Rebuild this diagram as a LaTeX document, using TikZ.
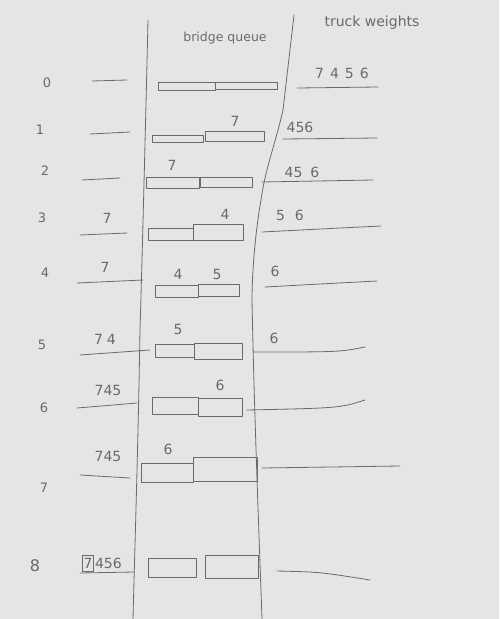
\documentclass[tikz,border=0pt]{standalone}
\usepackage{fontspec}
\setmainfont{DejaVu Sans}
\definecolor{paper}{HTML}{E5E5E3}
\definecolor{pencil}{HTML}{6A6A6A}
\begin{document}
\begin{tikzpicture}[x=1pt,y=-1pt,
  pen/.style={draw=pencil,line width=0.8pt,line cap=round,line join=round},
  qbox/.style={pen},
  num/.style={text=pencil,font=\fontsize{14}{14}\selectfont,inner sep=0pt},
  rownum/.style={text=pencil,font=\fontsize{13}{13}\selectfont,inner sep=0pt},
  head/.style={text=pencil,font=\fontsize{12.5}{12.5}\selectfont,inner sep=0pt}]
\fill[paper] (0,0) rectangle (499,619);
\useasboundingbox (0,0) rectangle (499,619);
% column lines
\draw[pen] (148,20) .. controls (145,150) and (141,300) .. (140,330) .. controls (138,450) and (135,540) .. (133,619);
\draw[pen] (294,15) -- (283,110) .. controls (275,145) and (265,170) .. (261,200) .. controls (254,240) and (252,280) .. (252,300) .. controls (254,400) and (257,480) .. (262,619);
% headers
\node[head] (hq) at (225,38) {bridge queue};
\node[head,font=\fontsize{14}{14}\selectfont] (hw) at (372,23) {truck weights};
% row numbers
\node[rownum] (r0) at (47,83) {0};
\node[rownum] (r1) at (40,130) {1};
\node[rownum] (r2) at (45,171) {2};
\node[rownum] (r3) at (42,218) {3};
\node[rownum] (r4) at (45,273) {4};
\node[rownum] (r5) at (42,345) {5};
\node[rownum] (r6) at (44,408) {6};
\node[rownum] (r7) at (44,488) {7};
\node[rownum,font=\fontsize{16}{16}\selectfont] (r8) at (35,566) {8};
% left column (finished trucks)
\draw[pen] (92,81) -- (127,80);
\draw[pen] (90,134) -- (130,132);
\draw[pen] (82,180) -- (120,178);
\node[num] (l3) at (107,218) {7};
\draw[pen] (80,235) -- (127,233);
\node[num] (l4) at (105,267) {7};
\draw[pen] (77,283) -- (143,280);
\node[num] (l5) at (105,339) {7\hspace{4pt}4};
\draw[pen] (80,355) -- (150,350);
\node[num] (l6) at (108,390) {745};
\draw[pen] (77,408) -- (137,403);
\node[num] (l7) at (108,456) {745};
\draw[pen] (80,475) -- (130,478);
\node[num,draw=pencil,line width=0.8pt,inner xsep=1pt,inner ysep=3pt] (l8a) at (88,563) {7};
\node[num,anchor=west,xshift=1pt] (l8b) at (l8a.east) {456};
\draw[pen] (80,573) -- (134,572);
% bridge boxes
\draw[qbox] (158,82) rectangle (215,90);
\draw[qbox] (215,82) rectangle (277,89);
\draw[qbox] (152,135) rectangle (203,142);
\draw[qbox] (205,131) rectangle (264,141);
\node[num] (b1) at (235,121) {7};
\draw[qbox] (146,177) rectangle (199,188);
\draw[qbox] (200,177) rectangle (252,187);
\node[num] (b2) at (172,165) {7};
\draw[qbox] (148,228) rectangle (193,240);
\draw[qbox] (193,224) rectangle (243,240);
\node[num] (b3) at (225,214) {4};
\draw[qbox] (155,285) rectangle (198,297);
\draw[qbox] (198,284) rectangle (239,296);
\node[num] (b4a) at (178,274) {4};
\node[num] (b4b) at (217,274) {5};
\draw[qbox] (155,344) rectangle (194,357);
\draw[qbox] (194,343) rectangle (242,359);
\node[num] (b5) at (178,329) {5};
\draw[qbox] (152,397) rectangle (198,414);
\draw[qbox] (198,398) rectangle (242,416);
\node[num] (b6) at (220,385) {6};
\draw[qbox] (141,463) rectangle (193,482);
\draw[qbox] (193,457) rectangle (257,481);
\node[num] (b7) at (168,449) {6};
\draw[qbox] (148,558) rectangle (196,577);
\draw[qbox] (205,555) rectangle (258,578);
% right column (waiting trucks)
\node[num] (w0) at (342,73) {7\hspace{6pt}4\hspace{6pt}5\hspace{6pt}6};
\draw[pen] (297,88) -- (378,87);
\node[num] (w1) at (300,127) {456};
\draw[pen] (283,139) -- (377,138);
\node[num] (w2) at (302,172) {45\hspace{8pt}6};
\draw[pen] (262,182) -- (373,180);
\node[num] (w3) at (290,215) {5\hspace{10pt}6};
\draw[pen] (262,232) .. controls (320,229) .. (381,226);
\node[num] (w4) at (275,271) {6};
\draw[pen] (265,287) .. controls (320,284) .. (377,281);
\node[num] (w5) at (274,338) {6};
\draw[pen] (253,352) .. controls (340,352) .. (365,347);
\draw[pen] (247,410) .. controls (340,408) .. (365,400);
\draw[pen] (262,468) -- (400,466);
\draw[pen] (277,571) .. controls (320,572) .. (370,580);
\end{tikzpicture}
\end{document}
